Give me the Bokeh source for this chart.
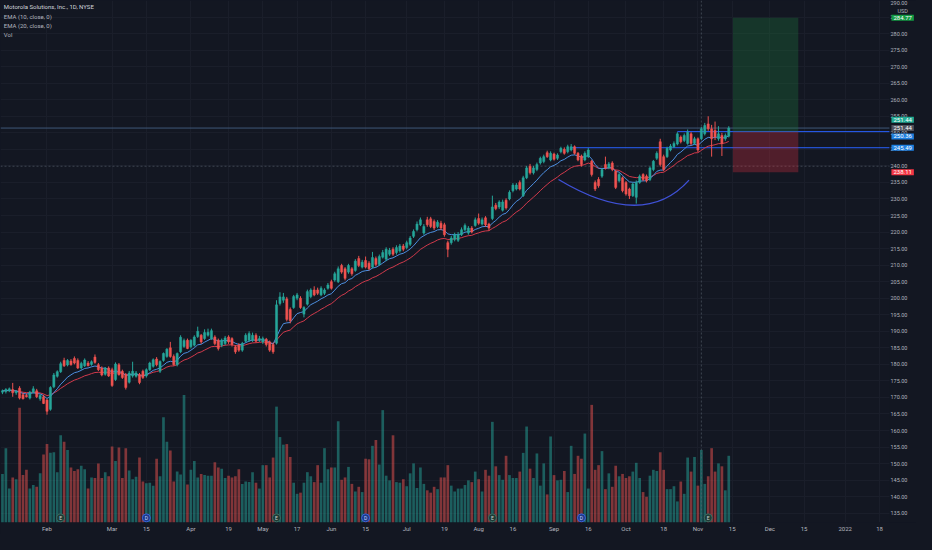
from bokeh.plotting import figure
from bokeh.models import Range1d, FixedTicker, Label, Span, BoxAnnotation, NumeralTickFormatter
from bokeh.embed import file_html
from bokeh.resources import INLINE
from bokeh.core.properties import value

# ---------------- data ----------------
opens = [
    171.6, 171.8, 172.0, 172.4, 171.4, 172.8, 170.8, 170.6, 169.8, 171.6,
    172.0, 169.6, 170.2, 169.2, 166.4, 173.2, 176.4, 177.8, 181.2, 179.8,
    181.0, 181.8, 181.2, 178.9, 179.6, 180.4, 180.0, 182.2, 179.9, 178.9,
    177.0, 178.9, 178.4, 175.4, 179.9, 177.9, 176.9, 174.6, 176.5, 176.4,
    176.9, 177.9, 176.5, 178.4, 179.4, 181.6, 177.9, 181.2, 182.4, 185.0,
    182.4, 179.9, 183.8, 185.4, 187.3, 185.3, 185.8, 188.4, 188.8, 187.8,
    188.8, 187.8, 188.3, 187.3, 185.8, 186.3, 188.3, 187.8, 185.3, 185.8,
    184.3, 187.0, 187.3, 187.3, 188.8, 187.3, 186.8, 187.6, 186.8, 186.0,
    186.4, 198.4, 199.4, 199.8, 196.6, 197.2, 200.0, 200.0, 195.2, 198.2,
    200.5, 202.5, 202.5, 201.0, 201.5, 203.0, 205.0, 205.5, 205.0, 209.9,
    208.9, 207.9, 208.9, 208.4, 212.0, 209.4, 211.4, 210.6, 209.4, 212.0,
    210.2, 212.4, 211.8, 213.3, 214.8, 213.8, 214.3, 215.8, 215.3, 216.3,
    218.7, 220.7, 222.2, 219.7, 223.7, 224.0, 223.2, 221.7, 222.7, 222.2,
    216.8, 216.8, 217.8, 217.5, 219.2, 220.7, 219.7, 221.2, 222.0, 224.1,
    222.4, 224.3, 222.4, 224.1, 228.1, 227.6, 226.6, 229.6, 230.0, 232.5,
    233.0, 235.0, 231.0, 236.4, 239.9, 237.9, 238.9, 240.9, 241.3, 244.0,
    241.8, 243.6, 242.3, 244.3, 245.0, 244.3, 244.8, 245.8, 243.8, 243.0,
    241.8, 242.8, 241.4, 235.0, 235.9, 236.9, 240.4, 239.4, 240.9, 238.4,
    235.5, 236.4, 235.0, 233.0, 231.0, 230.5, 235.0, 237.4, 236.9, 235.9,
    238.9, 242.3, 247.3, 242.8, 242.8, 244.8, 245.8, 246.6, 248.7, 247.7,
    246.8, 249.7, 246.8, 248.2, 248.2, 249.7, 252.7, 251.2, 250.7, 248.2,
    249.2, 248.2, 249.0,
]
highs = [
    172.4, 172.8, 173.0, 174.4, 172.2, 173.4, 171.4, 171.2, 172.0, 173.4,
    172.6, 171.0, 170.8, 169.6, 173.4, 177.4, 178.2, 180.8, 182.0, 181.6,
    181.6, 182.4, 181.8, 180.8, 181.8, 181.0, 181.2, 183.0, 180.4, 179.4,
    179.2, 179.4, 179.0, 180.6, 180.4, 178.4, 177.4, 178.0, 180.8, 178.0,
    177.4, 178.4, 178.8, 180.8, 181.8, 182.2, 181.2, 183.6, 184.9, 186.8,
    183.0, 183.6, 188.8, 187.8, 187.8, 187.6, 188.8, 191.4, 189.2, 190.6,
    190.8, 190.8, 188.8, 187.8, 187.8, 188.6, 188.8, 188.2, 185.8, 186.4,
    186.8, 189.4, 190.0, 189.6, 189.4, 188.6, 188.4, 188.0, 187.2, 186.6,
    199.4, 201.8, 201.6, 200.4, 197.2, 201.0, 201.6, 200.6, 197.6, 202.6,
    203.0, 203.6, 203.2, 203.6, 203.0, 204.6, 205.6, 208.0, 209.6, 210.4,
    209.4, 210.4, 209.4, 211.8, 212.8, 211.6, 212.6, 211.2, 214.0, 212.6,
    213.2, 214.6, 215.4, 215.2, 215.4, 216.0, 216.4, 216.4, 217.4, 218.8,
    220.8, 223.2, 224.4, 222.4, 224.6, 224.6, 223.8, 223.6, 223.4, 222.8,
    217.4, 218.8, 219.8, 220.0, 221.4, 222.6, 221.8, 221.8, 224.4, 225.6,
    224.4, 224.8, 222.8, 231.0, 228.8, 229.6, 229.8, 230.2, 232.6, 234.8,
    234.8, 235.6, 237.0, 240.0, 240.6, 240.0, 241.0, 242.8, 243.4, 244.6,
    244.4, 244.0, 243.8, 245.8, 245.6, 246.4, 246.6, 246.2, 244.2, 243.4,
    244.4, 245.4, 241.8, 235.6, 236.6, 239.4, 242.8, 241.2, 241.4, 238.8,
    238.0, 236.8, 235.4, 233.4, 235.0, 235.6, 237.4, 237.8, 237.4, 239.8,
    241.8, 244.4, 248.2, 243.4, 245.8, 246.6, 247.4, 250.2, 249.2, 249.8,
    251.0, 250.2, 248.8, 248.6, 251.8, 253.0, 255.0, 252.4, 253.4, 252.0,
    250.0, 249.8, 252.0,
]
lows = [
    171.0, 171.2, 171.6, 170.2, 170.8, 169.4, 169.4, 170.0, 169.4, 171.2,
    169.8, 169.0, 168.0, 164.8, 166.0, 172.8, 176.0, 177.4, 179.2, 179.4,
    179.6, 180.0, 178.6, 178.4, 179.2, 179.4, 179.6, 180.2, 178.0, 176.4,
    176.6, 176.2, 173.2, 175.0, 176.6, 175.6, 172.4, 174.2, 176.0, 176.0,
    174.0, 175.6, 176.0, 178.0, 179.0, 179.4, 177.4, 180.8, 182.0, 182.0,
    179.6, 179.4, 183.4, 185.0, 184.6, 184.8, 185.4, 188.0, 186.2, 187.4,
    188.4, 187.4, 185.8, 184.2, 185.2, 185.8, 186.2, 185.4, 183.2, 183.8,
    183.8, 186.6, 186.8, 186.8, 186.6, 186.8, 186.2, 185.4, 183.8, 183.2,
    186.0, 197.8, 198.6, 193.0, 192.4, 196.8, 199.4, 196.8, 194.2, 197.8,
    200.0, 200.6, 201.0, 200.6, 201.0, 202.6, 202.6, 205.0, 204.6, 207.4,
    205.4, 207.4, 206.8, 208.0, 209.4, 209.0, 209.0, 208.4, 209.0, 209.6,
    209.8, 212.0, 211.2, 212.8, 212.8, 213.2, 213.8, 214.2, 214.8, 215.8,
    218.2, 220.2, 221.8, 219.2, 221.6, 221.2, 220.6, 221.2, 220.6, 218.6,
    212.4, 216.2, 217.2, 217.0, 218.8, 220.2, 219.2, 219.6, 221.6, 222.2,
    222.0, 221.6, 220.4, 223.6, 226.6, 227.0, 226.2, 226.8, 229.6, 232.0,
    232.6, 232.6, 230.6, 236.0, 237.4, 237.4, 238.4, 240.4, 240.8, 242.4,
    241.4, 241.6, 241.8, 243.8, 243.4, 243.8, 244.4, 243.4, 241.4, 239.8,
    241.4, 242.4, 236.8, 232.4, 233.4, 236.4, 238.9, 239.0, 238.4, 233.0,
    235.0, 232.0, 231.0, 230.0, 230.6, 228.6, 234.6, 235.4, 235.0, 235.4,
    238.4, 241.8, 239.8, 238.4, 242.4, 244.4, 245.4, 246.2, 246.8, 247.2,
    246.4, 246.2, 246.4, 244.2, 247.8, 249.2, 250.6, 242.8, 247.8, 247.6,
    243.0, 247.6, 248.6,
]
closes = [
    172.0, 172.4, 172.6, 171.4, 171.8, 169.8, 169.6, 170.2, 171.6, 172.6,
    170.2, 170.6, 168.2, 165.8, 173.0, 176.8, 177.8, 180.2, 179.6, 181.2,
    179.9, 180.4, 178.9, 180.3, 181.3, 179.6, 180.8, 180.6, 178.4, 176.8,
    178.9, 176.5, 173.6, 180.1, 176.9, 176.0, 173.0, 177.4, 177.9, 177.4,
    174.5, 176.0, 178.4, 180.4, 181.4, 179.9, 180.9, 183.3, 184.6, 182.4,
    179.9, 183.3, 188.2, 187.2, 184.8, 187.3, 188.3, 190.0, 186.8, 189.6,
    189.7, 190.2, 186.3, 184.8, 187.3, 188.0, 186.8, 186.0, 183.8, 184.3,
    186.3, 188.8, 189.3, 188.8, 187.0, 187.8, 187.8, 186.0, 184.3, 183.8,
    198.0, 200.4, 200.4, 193.6, 193.2, 200.5, 201.0, 197.2, 197.2, 202.0,
    202.5, 201.0, 201.5, 203.0, 202.5, 204.0, 203.0, 207.4, 208.9, 207.9,
    206.0, 209.9, 207.4, 211.2, 209.9, 210.9, 209.4, 208.9, 212.3, 210.2,
    212.6, 213.8, 214.8, 214.5, 213.3, 215.3, 215.8, 214.8, 216.8, 218.2,
    220.2, 222.4, 223.7, 221.7, 222.2, 221.7, 221.2, 223.0, 221.2, 219.2,
    214.8, 218.2, 219.2, 219.2, 220.7, 222.0, 221.2, 220.0, 223.7, 222.7,
    223.7, 222.2, 221.2, 227.6, 227.1, 229.1, 229.1, 227.3, 232.0, 234.2,
    234.2, 233.0, 236.4, 239.4, 237.9, 239.4, 240.4, 242.3, 242.8, 242.8,
    243.8, 242.0, 243.3, 245.3, 243.8, 245.8, 245.8, 243.8, 241.8, 240.4,
    243.8, 244.8, 237.4, 233.0, 234.0, 238.9, 239.4, 240.6, 238.9, 233.5,
    237.4, 232.5, 231.5, 231.0, 234.5, 235.0, 236.9, 235.9, 235.5, 239.4,
    241.4, 243.8, 240.4, 238.9, 245.3, 246.0, 246.8, 249.7, 247.3, 249.2,
    250.2, 246.8, 248.2, 244.8, 251.2, 252.2, 251.2, 248.2, 248.7, 249.7,
    246.8, 249.2, 251.44,
]
volumes = [  # millions of shares
    0.83, 1.27, 0.58, 0.77, 0.74, 1.96, 0.81, 0.90, 0.58, 0.64,
    0.61, 0.84, 1.16, 1.34, 1.19, 1.20, 0.86, 1.49, 1.38, 1.24,
    0.94, 0.88, 0.91, 0.97, 0.91, 0.58, 0.77, 0.76, 1.01, 0.76,
    0.86, 0.79, 1.30, 1.05, 1.28, 0.76, 1.27, 0.89, 0.74, 0.78,
    1.11, 0.70, 0.67, 0.68, 0.63, 1.09, 0.79, 1.80, 1.38, 1.23,
    0.70, 0.87, 0.82, 2.18, 0.65, 0.90, 1.05, 0.77, 0.83, 0.81,
    0.80, 0.80, 1.03, 0.94, 0.92, 0.76, 0.80, 0.77, 0.79, 0.91,
    0.66, 0.70, 0.69, 0.86, 0.68, 0.58, 0.98, 0.98, 0.77, 1.11,
    1.98, 1.46, 1.33, 1.34, 1.12, 0.68, 0.49, 0.51, 0.68, 0.86,
    0.79, 0.69, 0.98, 0.68, 1.27, 0.91, 0.94, 0.94, 1.73, 0.73,
    0.77, 0.95, 0.66, 0.53, 0.61, 0.52, 1.09, 1.08, 1.31, 1.41,
    0.99, 1.92, 0.80, 0.72, 1.49, 0.69, 0.68, 0.74, 0.62, 0.84,
    1.01, 0.59, 0.94, 0.66, 0.55, 0.51, 0.61, 0.57, 0.77, 0.77,
    0.98, 0.63, 0.53, 0.58, 0.58, 0.64, 0.72, 0.69, 0.87, 0.74,
    0.53, 0.90, 0.80, 1.72, 0.96, 0.81, 0.73, 1.14, 0.81, 0.76,
    0.76, 0.87, 1.19, 1.64, 0.92, 0.76, 1.18, 0.63, 1.01, 0.48,
    1.47, 0.81, 0.72, 0.73, 0.88, 0.52, 1.31, 0.83, 1.14, 1.09,
    1.52, 0.58, 2.01, 0.90, 0.98, 1.22, 0.57, 0.84, 0.61, 0.97,
    0.79, 0.83, 0.76, 0.79, 0.87, 1.02, 0.76, 0.52, 0.44, 0.80,
    0.90, 0.88, 1.20, 0.90, 0.57, 0.57, 0.62, 0.36, 0.70, 0.49,
    1.11, 0.87, 1.12, 0.63, 1.24, 0.66, 0.79, 1.27, 0.87, 1.01,
    0.96, 0.55, 1.14,
]

# date axis: bar index of each labelled session (Jan 12 2021 = bar 0)
tick_index = [13, 32, 42, 55, 66, 76, 86, 96, 106, 118, 129, 139, 149,
              161, 171, 182, 193, 203, 213, 224, 234, 246, 256]
tick_labels = ["Feb", "Mar", "15", "Apr", "19", "May", "17", "Jun", "15",
               "Jul", "19", "Aug", "16", "Sep", "16", "Oct", "18", "Nov",
               "15", "Dec", "15", "2022", "18"]
price_ticks = list(range(135, 295, 5))

earnings_bars = [17, 80, 143, 206]
dividend_bars = [42, 106, 169]

# drawing-tool levels
last_price = 251.44
entry_price = 250.36
target_price = 284.77
stop_price = 238.11
neck_price = 245.49
neck_start = 166
entry_start = 197
pos_left, pos_right = 213.2, 232.3
cup_start = (162.3, 235.9)
cup_end = (200.4, 235.7)
cup_ctrl = (187.2, 220.4)
cross_bar, cross_price = 204, 239.9

# ---------------- styling ----------------
BG = "#131722"
GREEN = "#26a69a"
RED = "#ef5350"
TXT = "#b2b5be"
FONT = "Roboto"
Y0, Y1 = 132.2, 290.0
X0, X_AXIS, X1 = -0.57, 258.9, 266.8   # chart area ends at X_AXIS; price scale beyond

n = min(len(opens), len(highs), len(lows), len(closes), len(volumes))
idx = list(range(n))
o, h, l, c, v = opens[:n], highs[:n], lows[:n], closes[:n], volumes[:n]
up = [c[i] >= o[i] for i in idx]
col = [GREEN if u else RED for u in up]
btop = [max(o[i], c[i]) for i in idx]
bbot = [min(o[i], c[i]) for i in idx]


def ema(vals, span):
    k = 2.0 / (span + 1)
    out, e = [], vals[0]
    for x in vals:
        e = x * k + e * (1 - k)
        out.append(e)
    return out


ema10 = ema(c, 10)
ema20 = ema(c, 20)

p = figure(width=916, height=534,
           x_range=Range1d(X0, X1), y_range=Range1d(Y0, Y1),
           output_backend="svg", toolbar_location=None, y_axis_location="right",
           background_fill_color=BG, border_fill_color=BG, outline_line_color=None,
           min_border_left=0, min_border_top=0, min_border_right=0, min_border_bottom=12)
p.extra_y_ranges = {"vol": Range1d(0, 8.92)}

# grid
p.xgrid.ticker = FixedTicker(ticks=tick_index)
p.ygrid.ticker = FixedTicker(ticks=price_ticks)
p.grid.grid_line_color = "#1a1e2a"
p.grid.grid_line_width = 1

# axes (price labels drawn inside the right strip of the frame)
p.xaxis.ticker = FixedTicker(ticks=tick_index)
p.xaxis.major_label_overrides = {t: s for t, s in zip(tick_index, tick_labels)}
p.yaxis.ticker = FixedTicker(ticks=price_ticks)
p.yaxis.formatter = NumeralTickFormatter(format="0.00")
for ax in (p.xaxis, p.yaxis):
    ax.axis_label = None
    ax.axis_label_standoff = 0
    ax.axis_line_color = None
    ax.major_tick_line_color = None
    ax.minor_tick_line_color = None
    ax.major_tick_out = 0
    ax.major_tick_in = 0
    ax.minor_tick_out = 0
    ax.minor_tick_in = 0
    ax.major_label_text_color = TXT
    ax.major_label_text_font = FONT
p.xaxis.major_label_text_font_size = "6px"
p.xaxis.major_label_standoff = 2
p.yaxis.major_label_text_font_size = "5.5px"
p.yaxis.major_label_standoff = -26

# price-scale strip: hide grid there
p.add_layout(BoxAnnotation(left=X_AXIS, fill_color=BG, fill_alpha=1.0, line_color=None,
                           level="underlay"))

# volume
p.vbar(x=idx, top=v, width=0.78, y_range_name="vol", fill_color=col, fill_alpha=0.5,
       line_color=None)

# level lines
p.line([X0, X_AXIS], [last_price, last_price], line_color="#3f5878", line_width=1)
p.line([X0, X_AXIS], [cross_price, cross_price], line_color="#5a6270",
       line_dash="2 2", line_width=1, line_alpha=0.6)
p.line([cross_bar, cross_bar], [Y0, Y1], line_color="#5a6270",
       line_dash="2 2", line_width=1, line_alpha=0.6)
p.line([neck_start, X_AXIS], [neck_price, neck_price], line_color="#2962ff", line_width=1)
p.line([entry_start, X_AXIS], [entry_price, entry_price], line_color="#2962ff", line_width=1)

# long position tool
p.add_layout(BoxAnnotation(left=pos_left, right=pos_right, bottom=entry_price, top=target_price,
                           fill_color="#1e7a3a", fill_alpha=0.32, line_color=None))
p.add_layout(BoxAnnotation(left=pos_left, right=pos_right, bottom=stop_price, top=entry_price,
                           fill_color="#d32f3f", fill_alpha=0.32, line_color=None))

# EMAs
p.line(idx, ema20, line_color="#d23a4c", line_width=1)
p.line(idx, ema10, line_color="#4d8fe0", line_width=1)

# candles
p.segment(x0=idx, y0=l, x1=idx, y1=h, line_color=col, line_width=1)
p.vbar(x=idx, top=btop, bottom=bbot, width=0.62, fill_color=col, line_color=col, line_width=0.5)

# cup arc
p.quadratic(x0=[cup_start[0]], y0=[cup_start[1]], x1=[cup_end[0]], y1=[cup_end[1]],
            cx=[cup_ctrl[0]], cy=[cup_ctrl[1]], line_color="#3f51d6", line_width=1.3)

# event markers
ev_y = 133.6
p.scatter(x=earnings_bars, y=[ev_y] * len(earnings_bars), size=8, marker="circle",
          fill_color="#1f3a36", line_color="#3d6d62", line_width=1)
p.text(x=earnings_bars, y=[ev_y] * len(earnings_bars), text=["E"] * len(earnings_bars),
       text_align="center", text_baseline="middle", text_font_size="5px",
       text_color="#c9d3d0", text_font=value(FONT))
p.scatter(x=dividend_bars, y=[ev_y] * len(dividend_bars), size=8, marker="circle",
          fill_color="#1d3a8a", line_color="#3a64d8", line_width=1)
p.text(x=dividend_bars, y=[ev_y] * len(dividend_bars), text=["D"] * len(dividend_bars),
       text_align="center", text_baseline="middle", text_font_size="5px",
       text_color="#c9d6ff", text_font=value(FONT))

# legend text
legend_rows = [("Motorola Solutions, Inc., 1D, NYSE", "#d1d4dc", 288.2),
               ("EMA (10, close, 0)", TXT, 285.3),
               ("EMA (20, close, 0)", TXT, 282.4),
               ("Vol", TXT, 279.6)]
for txt, colr, yy in legend_rows:
    p.add_layout(Label(x=0.4, y=yy, text=txt, text_color=colr, text_font=FONT,
                       text_font_size="6px", text_baseline="middle"))

# price tags on the price scale
tags = [(target_price, target_price, "#139a43"),
        (last_price + 2.5, last_price, "#22ab94"),
        (last_price, last_price, "#50535e"),
        (entry_price - 1.45, entry_price, "#1e7fe0"),
        (neck_price, neck_price, "#1e7fe0"),
        (stop_price, stop_price, "#f23645")]
for yy, val, bg in tags:
    p.add_layout(Label(x=X_AXIS, y=yy, text=f"{val:.2f}", text_color="#ffffff", text_font=FONT,
                       text_font_size="6px", text_baseline="middle", text_align="left",
                       x_offset=2, background_fill_color=bg, padding=(2, 1)))
p.add_layout(Label(x=X_AXIS, y=286.8, text="USD", text_color=TXT, text_font=FONT,
                   text_font_size="5.5px", text_baseline="middle", x_offset=8))

html = file_html(p, INLINE, title="MSI")
html = html.replace("<head>", "<head><style>html,body{background:#131722;}</style>", 1)
open("out.html", "w").write(html)
